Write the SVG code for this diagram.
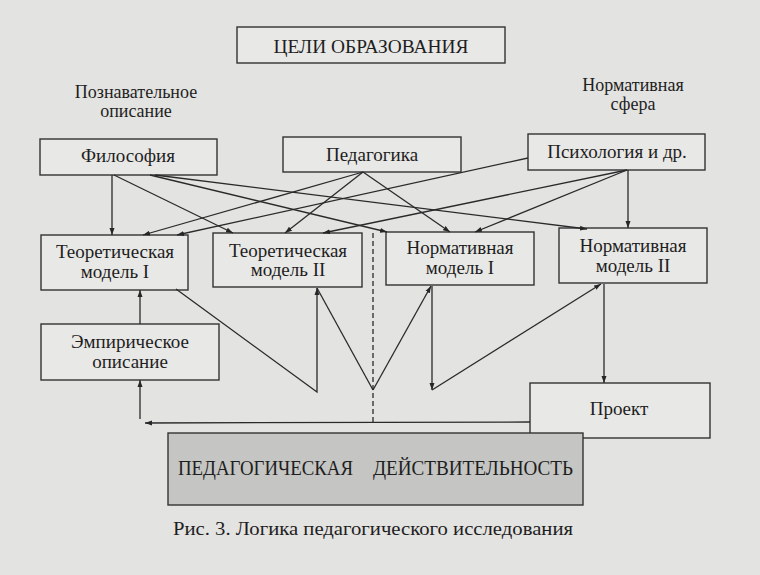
<svg xmlns="http://www.w3.org/2000/svg" width="760" height="575" viewBox="0 0 760 575">
<defs>
<marker id="ah" markerUnits="userSpaceOnUse" markerWidth="8" markerHeight="6" refX="7" refY="3" orient="auto">
<path d="M0,0.5 L7,3 L0,5.5 z" fill="#262626"/>
</marker>
<style>
.bx{fill:#e8e8e6;stroke:#333;stroke-width:1.4}
.t{font-family:"Liberation Serif","Times New Roman",serif;font-size:19px;fill:#1e1e1e;text-anchor:middle}
.lb{font-size:18px}
.big{font-size:22px;text-anchor:start}
.cap{font-size:19px;text-anchor:start}
.c{fill:none;stroke:#2a2a2a;stroke-width:1.3}
.a{marker-end:url(#ah)}
</style>
</defs>
<rect x="0" y="0" width="760" height="575" fill="#e3e3e1"/>

<g id="goals">
<rect class="bx" x="237" y="27" width="268" height="36"/>
<text class="t" x="371" y="53" textLength="195" lengthAdjust="spacingAndGlyphs">ЦЕЛИ ОБРАЗОВАНИЯ</text>
</g>
<g id="label-cognitive">
<text class="t lb" x="136" y="98">Познавательное</text>
<text class="t lb" x="136" y="117">описание</text>
</g>
<g id="label-normative">
<text class="t lb" x="633" y="91">Нормативная</text>
<text class="t lb" x="633" y="110">сфера</text>
</g>
<g id="philosophy">
<rect class="bx" x="40" y="139" width="177" height="36"/>
<text class="t" x="128" y="162">Философия</text>
</g>
<g id="pedagogy">
<rect class="bx" x="283" y="137" width="178" height="35"/>
<text class="t" x="372" y="161">Педагогика</text>
</g>
<g id="psychology">
<rect class="bx" x="528" y="134" width="177" height="36"/>
<text class="t" x="617" y="158">Психология и др.</text>
</g>
<g id="theor1">
<rect class="bx" x="41" y="235" width="147" height="55"/>
<text class="t" x="115" y="258">Теоретическая</text>
<text class="t" x="115" y="278">модель I</text>
</g>
<g id="theor2">
<rect class="bx" x="213" y="233" width="149" height="54"/>
<text class="t" x="288" y="257">Теоретическая</text>
<text class="t" x="288" y="276">модель II</text>
</g>
<g id="norm1">
<rect class="bx" x="386" y="232" width="148" height="53"/>
<text class="t" x="460" y="254">Нормативная</text>
<text class="t" x="460" y="274">модель I</text>
</g>
<g id="norm2">
<rect class="bx" x="559" y="228" width="148" height="55"/>
<text class="t" x="633" y="252">Нормативная</text>
<text class="t" x="633" y="272">модель II</text>
</g>
<g id="empirical">
<rect class="bx" x="41" y="324" width="178" height="56"/>
<text class="t" x="130" y="348">Эмпирическое</text>
<text class="t" x="130" y="368">описание</text>
</g>
<g id="project">
<rect class="bx" x="530" y="383" width="180" height="55"/>
<text class="t" x="619" y="415">Проект</text>
</g>
<g id="reality">
<rect x="168" y="433" width="415" height="72" fill="#c5c5c3" stroke="#333" stroke-width="1.4"/>
<text class="t big" x="178" y="475" textLength="175" lengthAdjust="spacingAndGlyphs">ПЕДАГОГИЧЕСКАЯ</text>
<text class="t big" x="373" y="475" textLength="200" lengthAdjust="spacingAndGlyphs">ДЕЙСТВИТЕЛЬНОСТЬ</text>
</g>
<g id="caption">
<text class="t cap" x="173" y="535" textLength="400" lengthAdjust="spacingAndGlyphs">Рис. 3. Логика педагогического исследования</text>
</g>

<g id="connectors">
<line class="c a" x1="112" y1="175" x2="112" y2="235"/>
<line class="c a" x1="114" y1="175" x2="233" y2="233"/>
<line class="c a" x1="150" y1="175" x2="387" y2="232"/>
<line class="c a" x1="155" y1="175" x2="587" y2="229"/>
<line class="c a" x1="363" y1="172" x2="143" y2="235"/>
<line class="c a" x1="363" y1="172" x2="285" y2="233"/>
<line class="c a" x1="363" y1="172" x2="450" y2="232"/>
<line class="c a" x1="528" y1="158" x2="177" y2="235"/>
<line class="c a" x1="627" y1="170" x2="323" y2="233"/>
<line class="c a" x1="627" y1="170" x2="475" y2="232"/>
<line class="c a" x1="628" y1="170" x2="628" y2="228"/>
<polyline class="c a" points="176,289 317,392 317,288"/>
<line class="c" x1="317" y1="288" x2="373" y2="390"/>
<line class="c a" x1="373" y1="390" x2="431" y2="286"/>
<line class="c a" x1="432" y1="286" x2="432" y2="390"/>
<line class="c a" x1="432" y1="390" x2="601" y2="284"/>
<line class="c a" x1="604" y1="284" x2="604" y2="383"/>
<line class="c" x1="373" y1="233" x2="373" y2="422" stroke-dasharray="5,3"/>
<line class="c a" x1="530" y1="422" x2="145" y2="423"/>
<line class="c a" x1="140" y1="419" x2="140" y2="380"/>
<line class="c a" x1="140" y1="324" x2="140" y2="290"/>
</g>
</svg>
